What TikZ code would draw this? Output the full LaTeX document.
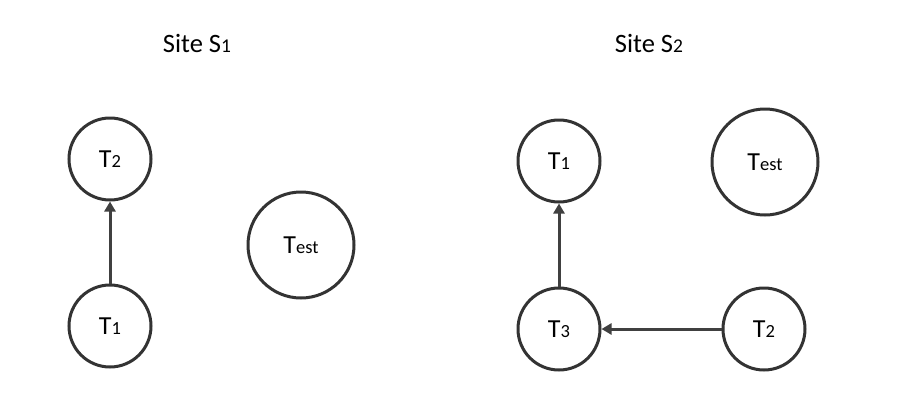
\documentclass[tikz,border=0pt]{standalone}
\usepackage{fontspec}
\setmainfont{Carlito}
\usetikzlibrary{arrows.meta}
\definecolor{ink}{HTML}{333333}
\definecolor{edge}{HTML}{404040}
\newcommand{\lbl}[2]{{\fontsize{26}{30}\selectfont #1}{\fontsize{18.5}{22}\selectfont #2}}
\newcommand{\ttl}[2]{{\fontsize{26.5}{30}\selectfont #1}{\fontsize{19.5}{22}\selectfont #2}}
\tikzset{
  txn/.style={circle, draw=ink, line width=3pt, minimum size=82pt, inner sep=0pt, fill=white},
  big/.style={txn, minimum size=106pt},
  wait/.style={draw=edge, line width=3pt, -{Triangle[width=11pt,length=10pt]}},
  title/.style={inner sep=0pt, anchor=base}
}
\begin{document}
\begin{tikzpicture}[x=1pt,y=-1pt]
  \useasboundingbox[fill=white] (0,0) rectangle (922,416);
  % site S1
  \node[title] (s1) at (197,52) {\ttl{Site S}{1}};
  \node[txn] (a2) at (110,159) {\lbl{T}{2}};
  \node[txn] (a1) at (110,326) {\lbl{T}{1}};
  \node[big] (atest) at (301,245) {\lbl{T}{est}};
  \draw[wait] (a1) -- (a2);
  % site S2
  \node[title] (s2) at (649,52) {\ttl{Site S}{2}};
  \node[txn] (b1) at (559,161) {\lbl{T}{1}};
  \node[big] (btest) at (765,162) {\lbl{T}{est}};
  \node[txn] (b3) at (559,329) {\lbl{T}{3}};
  \node[txn] (b2) at (764,329) {\lbl{T}{2}};
  \draw[wait] (b3) -- (b1);
  \draw[wait] (b2) -- (b3);
\end{tikzpicture}
\end{document}
